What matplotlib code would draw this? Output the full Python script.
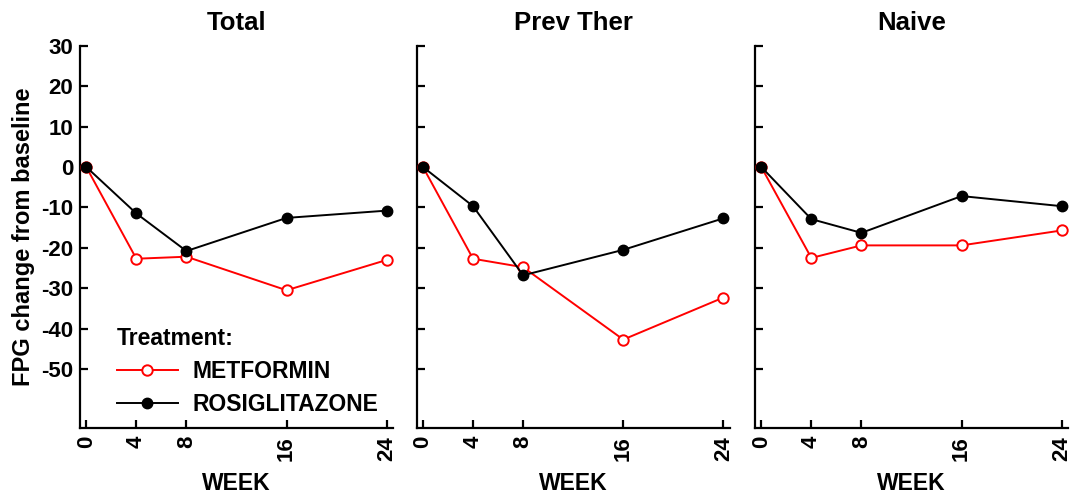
import matplotlib
matplotlib.use("Agg")
import matplotlib.pyplot as plt

plt.rcParams['font.family'] = ['Liberation Sans', 'DejaVu Sans']
plt.rcParams['font.weight'] = 'bold'

weeks = [0, 4, 8, 16, 24]
panels = ["Total", "Prev Ther", "Naive"]
metformin = {
    "Total": [0, -22.7, -22.2, -30.5, -23.0],
    "Prev Ther": [0, -22.7, -24.8, -42.7, -32.3],
    "Naive": [0, -22.5, -19.4, -19.4, -15.7],
}
rosiglitazone = {
    "Total": [0, -11.5, -20.8, -12.6, -10.8],
    "Prev Ther": [0, -9.7, -26.8, -20.5, -12.7],
    "Naive": [0, -12.9, -16.3, -7.2, -9.7],
}
yticks = [30, 20, 10, 0, -10, -20, -30, -40, -50]

fig = plt.figure(figsize=(10.79, 4.98), dpi=100)
lefts = [80, 416.7, 755]
W, H = 1079, 498
axes = []
for i, name in enumerate(panels):
    ax = fig.add_axes([lefts[i] / W, 1 - 427.7 / H, 313 / W, (427.7 - 45.7) / H])
    axes.append(ax)
    ax.plot(weeks, metformin[name], color='#ff0000', lw=1.4, marker='o',
            markersize=7.5, markerfacecolor='white', markeredgecolor='#ff0000',
            markeredgewidth=1.4, label='METFORMIN', zorder=3)
    ax.plot(weeks, rosiglitazone[name], color='black', lw=1.4, marker='o',
            markersize=7.5, markerfacecolor='black', label='ROSIGLITAZONE', zorder=4)
    ax.set_xlim(-0.5, 24.5)
    ax.set_ylim(-64.5, 30)
    ax.set_xticks(weeks)
    ax.set_xticklabels([str(w) for w in weeks], rotation=90, fontsize=16, fontweight='bold')
    ax.set_yticks(yticks)
    if i == 0:
        ax.set_yticklabels([str(t) for t in yticks], fontsize=16, fontweight='bold')
        ax.set_ylabel('FPG change from baseline', fontsize=17, fontweight='bold', labelpad=4)
    else:
        ax.set_yticklabels([])
    ax.spines['top'].set_visible(False)
    ax.spines['right'].set_visible(False)
    for s in ('left', 'bottom'):
        ax.spines[s].set_linewidth(1.6)
    ax.tick_params(axis='y', direction='in', length=6, width=1.6, pad=5)
    ax.tick_params(axis='x', direction='in', length=6, width=1.6, pad=6)
    ax.set_title(name, fontsize=18.5, fontweight='bold', pad=11)
    ax.set_xlabel('WEEK', fontsize=16.5, fontweight='bold', labelpad=8)

leg = axes[0].legend(title='Treatment:', loc='lower left', bbox_to_anchor=(0.118, 0.03),
                     frameon=False, fontsize=16.5, title_fontsize=16.5,
                     handlelength=2.65, handletextpad=0.65, borderaxespad=0, labelspacing=0.45,
                     borderpad=0)
leg._legend_box.align = 'left'
leg.get_title().set_fontweight('bold')
for t in leg.get_texts():
    t.set_fontweight('bold')

fig.savefig('out.png', dpi=100)
